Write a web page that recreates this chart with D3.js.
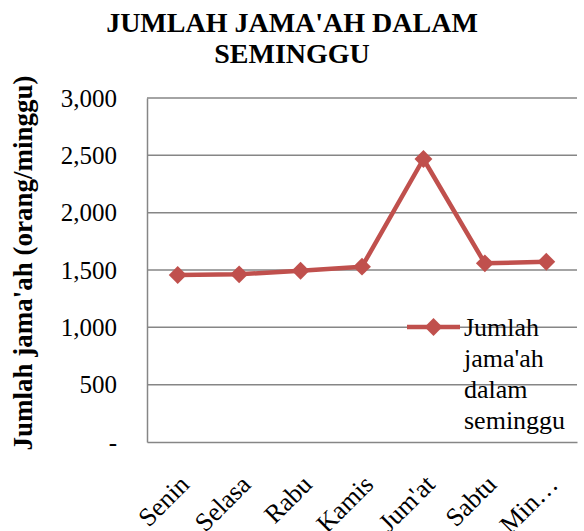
<!DOCTYPE html>
<html>
<head>
<meta charset="utf-8">
<script src="https://cdn.jsdelivr.net/npm/d3@7"></script>
<style>
  body { margin: 0; background: #fff; }
  text { font-family: "Liberation Serif", "Times New Roman", serif; fill: #000; }
</style>
</head>
<body>
<svg id="chart" width="584" height="531"></svg>
<script>
const days = ["Senin", "Selasa", "Rabu", "Kamis", "Jum'at", "Sabtu", "Minggu"];
const jamaah = [1456, 1462, 1494, 1529, 2468, 1558, 1572];
const yTicks = [0, 500, 1000, 1500, 2000, 2500, 3000];
const seriesName = "Jumlah jama'ah dalam seminggu";
const legendLines = ["Jumlah", "jama'ah", "dalam", "seminggu"];

const svg = d3.select("#chart");
const margin = {top: 98, right: 7, bottom: 89, left: 147};
const width = 584 - margin.left - margin.right;
const height = 531 - margin.top - margin.bottom;
const color = "#C0504D";

const g = svg.append("g").attr("transform", `translate(${margin.left},${margin.top})`);

const x = d3.scaleBand().domain(days).range([0, width]);
const y = d3.scaleLinear().domain([0, 3000]).range([height, 0]);

// Title
svg.append("text")
    .attr("x", 292).attr("y", 32)
    .attr("text-anchor", "middle")
    .attr("font-size", "28px").attr("font-weight", "bold")
    .selectAll("tspan")
    .data(["JUMLAH JAMA'AH DALAM", "SEMINGGU"])
    .enter().append("tspan")
    .attr("x", 292)
    .attr("dy", (d, i) => i === 0 ? 0 : 31)
    .text(d => d);

// Gridlines
g.append("g")
    .selectAll("line")
    .data(yTicks.filter(d => d > 0))
    .enter().append("line")
    .attr("x1", 0).attr("x2", width)
    .attr("y1", d => y(d)).attr("y2", d => y(d))
    .attr("stroke", "#868686")
    .attr("stroke-width", 1.5);

// Y Axis
const yAxis = d3.axisLeft(y).tickValues(yTicks).tickSize(0).tickPadding(30)
    .tickFormat(d => d === 0 ? "-" : d3.format(",")(d));
const yg = g.append("g").call(yAxis);
yg.select(".domain").attr("stroke", "#868686").attr("stroke-width", 1.5);
yg.selectAll("text").attr("font-size", "25px");

// X Axis
const xAxis = d3.axisBottom(x).tickSize(0).tickFormat(d => d === "Minggu" ? "Min\u2026" : d);
const xg = g.append("g").attr("transform", `translate(0,${height})`).call(xAxis);
xg.select(".domain").attr("stroke", "#868686").attr("stroke-width", 1.5);
xg.selectAll("text")
    .attr("font-size", "26px")
    .attr("text-anchor", "end")
    .attr("dy", null)
    .attr("y", 0)
    .attr("transform", "translate(13,44) rotate(-45)");

// Y axis title
svg.append("text")
    .attr("transform", `translate(32,${margin.top + height / 2 - 7}) rotate(-90)`)
    .attr("text-anchor", "middle")
    .attr("font-size", "27px").attr("font-weight", "bold")
    .text("Jumlah jama'ah (orang/minggu)");

// Line
const line = d3.line()
    .x((d, i) => x(days[i]) + x.bandwidth() / 2)
    .y(d => y(d));
g.append("path").datum(jamaah)
    .attr("d", line)
    .attr("fill", "none")
    .attr("stroke", color)
    .attr("stroke-width", 4.5)
    .attr("stroke-linejoin", "round");

const diamond = d3.symbol().type(d3.symbolSquare).size(160);
g.selectAll(".marker")
    .data(jamaah)
    .enter().append("path")
    .attr("class", "marker")
    .attr("d", diamond)
    .attr("fill", color)
    .attr("transform", (d, i) => `translate(${x(days[i]) + x.bandwidth() / 2},${y(d)}) rotate(45)`);

// Legend
const legend = svg.append("g").attr("transform", "translate(407,327)");
legend.append("line")
    .attr("x1", 0).attr("x2", 53)
    .attr("stroke", color).attr("stroke-width", 4.5);
legend.append("path")
    .attr("d", diamond)
    .attr("fill", color)
    .attr("transform", "translate(26.5,0) rotate(45)");
legend.append("text")
    .attr("font-size", "26px")
    .attr("aria-label", seriesName)
    .selectAll("tspan")
    .data(legendLines)
    .enter().append("tspan")
    .attr("x", 57)
    .attr("y", (d, i) => 9 + i * 31)
    .text(d => d);
</script>
</body>
</html>
